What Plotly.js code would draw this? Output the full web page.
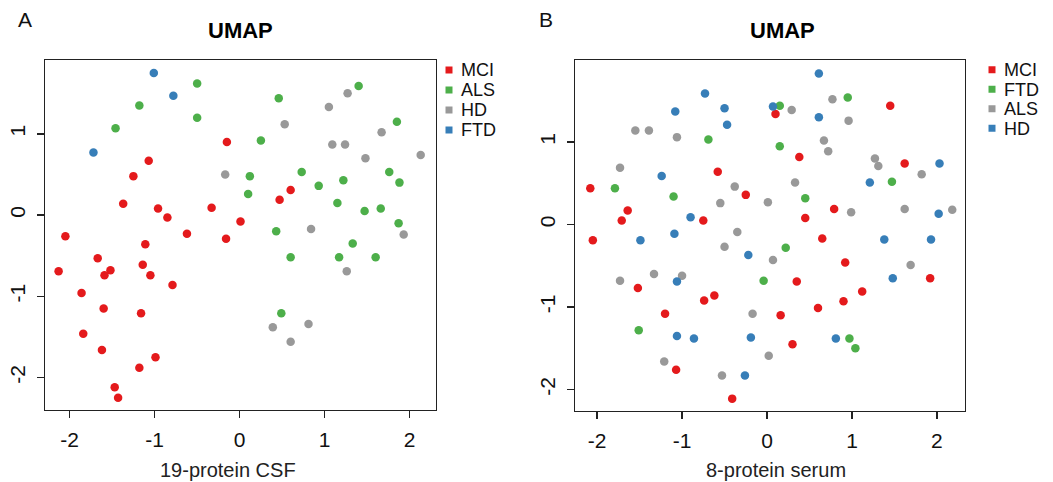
<!DOCTYPE html>
<html>
<head>
<meta charset="utf-8">
<script src="https://cdn.plot.ly/plotly-3.0.1.min.js"></script>
<style>html,body{margin:0;padding:0;background:#fff}#chart{width:1053px;height:482px}</style>
</head>
<body>
<div id="chart"></div>
<script>
// ---------- DATA ----------
const csfGroups = ['MCI', 'ALS', 'HD', 'FTD'];
const serumGroups = ['MCI', 'FTD', 'ALS', 'HD'];
const groupColors = ['#E41A1C', '#4DAF4A', '#999999', '#377EB8'];
const tickVals = [-2, -1, 0, 1, 2];
const tickLabels = ['-2', '-1', '0', '1', '2'];

// Panel A: 19-protein CSF
const csfMciX = [-0.15,-1.07,-1.25,-1.37,-0.96,-0.85,-0.33,0.01,-2.05,-0.62,-0.16,-1.11,-1.67,-2.13,-1.52,-1.59,-1.14,-1.05,-0.79,-1.86,-1.60,-1.16,-1.84,-1.62,-0.99,-1.18,-1.47,-1.43,0.60,0.47];
const csfMciY = [0.90,0.67,0.48,0.14,0.08,-0.03,0.09,-0.08,-0.26,-0.23,-0.29,-0.36,-0.53,-0.69,-0.68,-0.74,-0.61,-0.74,-0.86,-0.96,-1.15,-1.21,-1.46,-1.66,-1.75,-1.88,-2.12,-2.25,0.31,0.19];
const csfAlsX = [-0.50,-1.18,-0.50,-1.46,1.40,0.46,1.85,0.25,0.73,1.76,0.12,1.88,1.22,0.93,0.10,1.15,1.47,1.66,1.87,0.43,1.33,0.60,1.17,1.60,0.49];
const csfAlsY = [1.62,1.35,1.20,1.07,1.59,1.44,1.15,0.92,0.53,0.53,0.48,0.40,0.43,0.36,0.26,0.15,0.05,0.08,-0.10,-0.20,-0.35,-0.52,-0.52,-0.52,-1.21];
const csfHdX = [-0.17,1.27,1.05,0.53,1.67,1.09,1.24,2.13,1.48,0.84,1.93,1.26,0.39,0.81,0.60];
const csfHdY = [0.50,1.50,1.33,1.12,1.02,0.87,0.87,0.74,0.70,-0.17,-0.24,-0.69,-1.38,-1.34,-1.56];
const csfFtdX = [-1.01,-0.78,-1.72];
const csfFtdY = [1.75,1.47,0.77];

// Panel B: 8-protein serum
const serMciX = [-0.58,-2.08,-0.25,-1.64,-1.71,-0.75,-2.05,-1.52,-0.74,-0.62,-1.20,-1.07,-0.41,0.10,1.45,0.38,1.62,0.79,0.45,0.65,0.92,0.35,1.92,1.12,0.90,0.60,0.16,0.30];
const serMciY = [0.64,0.44,0.36,0.17,0.05,0.05,-0.19,-0.77,-0.92,-0.86,-1.08,-1.76,-2.11,1.34,1.44,0.82,0.74,0.19,0.08,-0.17,-0.46,-0.69,-0.65,-0.81,-0.93,-1.01,-1.10,-1.45];
const serFtdX = [-0.69,-1.79,-1.10,0.95,0.15,0.15,1.47,0.45,0.22,-0.04,-1.51,0.97,1.04];
const serFtdY = [1.03,0.44,0.34,1.54,1.44,0.95,0.52,0.32,-0.28,-0.68,-1.28,-1.38,-1.50];
const serAlsX = [-1.55,-1.39,-1.06,-1.73,-0.38,-0.55,-0.35,-0.50,-1.73,-1.33,-1.00,-0.17,-1.21,-0.53,0.77,0.29,0.96,0.67,0.72,1.27,1.31,1.82,0.33,0.01,0.99,1.62,2.18,0.07,1.69,0.02];
const serAlsY = [1.14,1.14,1.06,0.69,0.46,0.26,-0.09,-0.27,-0.68,-0.60,-0.62,-1.08,-1.66,-1.83,1.52,1.39,1.26,1.02,0.89,0.80,0.71,0.61,0.51,0.27,0.15,0.19,0.18,-0.43,-0.49,-1.59];
const serHdX = [-0.73,-1.08,-0.50,-0.47,-1.24,-0.90,-1.09,-1.49,-0.22,-1.06,-1.06,-0.86,-0.19,-0.26,0.61,0.07,0.61,2.03,1.21,2.02,1.38,1.93,1.48,0.81];
const serHdY = [1.59,1.37,1.41,1.21,0.59,0.09,-0.11,-0.19,-0.37,-0.69,-1.35,-1.38,-1.37,-1.83,1.83,1.43,1.30,0.74,0.51,0.13,-0.18,-0.18,-0.65,-1.38];

const csfSeries = {MCI: [csfMciX, csfMciY], ALS: [csfAlsX, csfAlsY], HD: [csfHdX, csfHdY], FTD: [csfFtdX, csfFtdY]};
const serSeries = {MCI: [serMciX, serMciY], FTD: [serFtdX, serFtdY], ALS: [serAlsX, serAlsY], HD: [serHdX, serHdY]};

// ---------- LAYOUT HELPERS ----------
const W = 1053, H = 482;
const px = v => v / W;
const py = v => 1 - v / H;
const FONT = 'Liberation Sans, Arial, Helvetica, sans-serif';
const LINE = '#222222';

const traces = [];
csfGroups.forEach((g, i) => {
  traces.push({type: 'scatter', mode: 'markers', x: csfSeries[g][0], y: csfSeries[g][1],
    xaxis: 'x', yaxis: 'y', name: g, showlegend: false, hoverinfo: 'skip',
    marker: {color: groupColors[i], size: 8.5, line: {width: 0}}});
});
serumGroups.forEach((g, i) => {
  traces.push({type: 'scatter', mode: 'markers', x: serSeries[g][0], y: serSeries[g][1],
    xaxis: 'x2', yaxis: 'y2', name: g, showlegend: false, hoverinfo: 'skip',
    marker: {color: groupColors[i], size: 8.5, line: {width: 0}}});
});
// legend keys (drawn on small helper axes)
traces.push({type: 'scatter', mode: 'markers', x: csfGroups.map(() => 0), y: csfGroups,
  xaxis: 'x3', yaxis: 'y3', showlegend: false, hoverinfo: 'skip',
  marker: {symbol: 'square', size: 7, color: groupColors}});
traces.push({type: 'scatter', mode: 'markers', x: serumGroups.map(() => 0), y: serumGroups,
  xaxis: 'x4', yaxis: 'y4', showlegend: false, hoverinfo: 'skip',
  marker: {symbol: 'square', size: 7, color: groupColors}});

function mainAxis(domain, range, anchor, isY) {
  const a = {
    domain: domain, range: range, anchor: anchor,
    tickmode: 'array', tickvals: tickVals, ticktext: tickLabels,
    ticks: 'outside', ticklen: 7, tickwidth: 1.3, tickcolor: LINE,
    showline: true, mirror: true, linecolor: LINE, linewidth: 1.3,
    showgrid: false, zeroline: false,
    tickfont: {family: FONT, size: 21, color: '#111'}
  };
  a.ticklabelstandoff = 3;
  if (isY) { a.tickangle = -90; }
  return a;
}
function legendY(domainTop, domainBottom, cats) {
  return {domain: [py(domainBottom), py(domainTop)], type: 'category',
    categoryorder: 'array', categoryarray: cats, range: [cats.length - 0.5, -0.5],
    tickmode: 'array', tickvals: cats, ticktext: cats,
    side: 'right', showline: false, showgrid: false, zeroline: false, ticks: '',
    tickfont: {family: FONT, size: 18, color: '#111'}, ticklabelstandoff: 6, fixedrange: true};
}
function legendX(cx) {
  return {domain: [px(cx - 5), px(cx + 5)], range: [-1, 1], visible: false, fixedrange: true};
}

const layout = {
  width: W, height: H,
  margin: {l: 0, r: 0, t: 0, b: 0},
  paper_bgcolor: '#ffffff', plot_bgcolor: '#ffffff',
  showlegend: false,
  xaxis: mainAxis([px(45), px(436)], [-2.29, 2.31], 'y', false),
  yaxis: mainAxis([py(410), py(60)], [-2.40, 1.91], 'x', true),
  xaxis2: mainAxis([px(575), px(965)], [-2.26, 2.33], 'y2', false),
  yaxis2: mainAxis([py(411), py(60)], [-2.26, 1.995], 'x2', true),
  xaxis3: Object.assign(legendX(449), {anchor: 'y3'}),
  yaxis3: Object.assign(legendY(60, 140, csfGroups), {anchor: 'x3'}),
  xaxis4: Object.assign(legendX(992), {anchor: 'y4'}),
  yaxis4: Object.assign(legendY(60, 138, serumGroups), {anchor: 'x4'}),
  annotations: [
    {text: 'A', xref: 'paper', yref: 'paper', x: px(16), y: py(20), xanchor: 'left', yanchor: 'middle', showarrow: false, font: {family: FONT, size: 21, color: '#111'}},
    {text: 'B', xref: 'paper', yref: 'paper', x: px(537), y: py(20), xanchor: 'left', yanchor: 'middle', showarrow: false, font: {family: FONT, size: 21, color: '#111'}},
    {text: '<b>UMAP</b>', xref: 'paper', yref: 'paper', x: px(240), y: py(31), xanchor: 'center', yanchor: 'middle', showarrow: false, font: {family: FONT, size: 22, color: '#000'}},
    {text: '<b>UMAP</b>', xref: 'paper', yref: 'paper', x: px(782), y: py(31), xanchor: 'center', yanchor: 'middle', showarrow: false, font: {family: FONT, size: 22, color: '#000'}},
    {text: '19-protein CSF', xref: 'paper', yref: 'paper', x: px(228), y: py(470), xanchor: 'center', yanchor: 'middle', showarrow: false, font: {family: FONT, size: 20, color: '#222'}},
    {text: '8-protein serum', xref: 'paper', yref: 'paper', x: px(776), y: py(470), xanchor: 'center', yanchor: 'middle', showarrow: false, font: {family: FONT, size: 20, color: '#222'}}
  ]
};

Plotly.newPlot('chart', traces, layout, {staticPlot: true, displayModeBar: false});
</script>
</body>
</html>
